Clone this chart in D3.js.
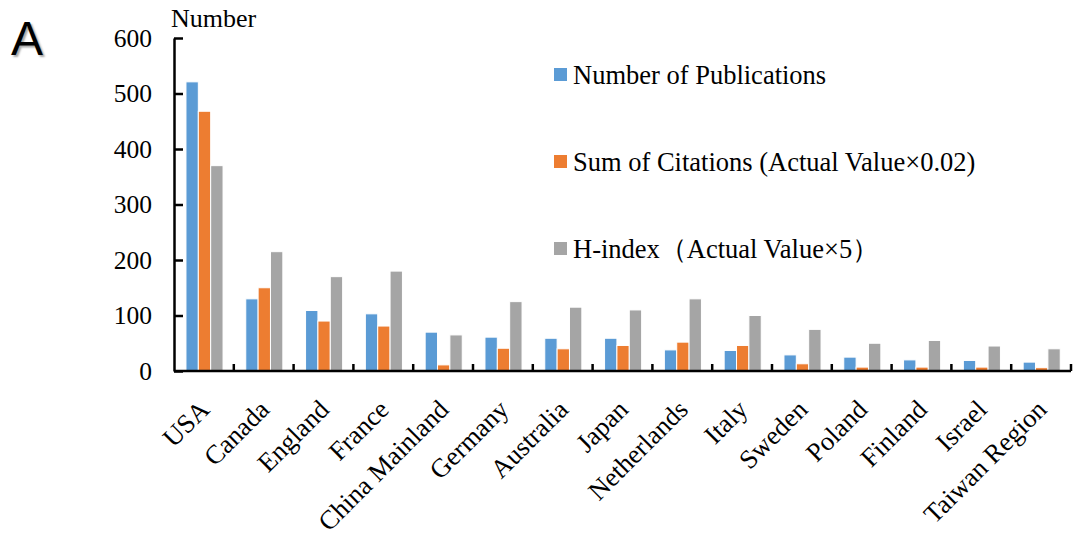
<!DOCTYPE html>
<html><head><meta charset="utf-8">
<script src="https://cdn.jsdelivr.net/npm/d3@7"></script>
<style>body{margin:0;background:#fff}</style>
</head><body>
<script>
const categories = ["USA","Canada","England","France","China Mainland","Germany","Australia","Japan","Netherlands","Italy","Sweden","Poland","Finland","Israel","Taiwan Region"];
const publications = [521,130,109,103,70,61,59,59,38,37,29,25,20,19,16];
const citations = [468,150,90,81,11,41,40,46,52,46,13,7,7,7,6];
const hindex = [370,215,170,180,65,125,115,110,130,100,75,50,55,45,40];
const seriesNames = ["Number of Publications","Sum of Citations (Actual Value×0.02)","H-index（Actual Value×5）"];
const seriesColors = ["#5B9BD5","#ED7D31","#A5A5A5"];
const yTicks = [0,100,200,300,400,500,600];

const W=1076,H=540;
const svg=d3.select("body").append("svg").attr("width",W).attr("height",H);
const serif="Liberation Serif";

const x=d3.scaleBand().domain(categories).range([174,1071]);
const xs=d3.scaleBand().domain([0,1,2]).range([x.bandwidth()*0.2,x.bandwidth()*0.82]);
const y=d3.scaleLinear().domain([0,600]).range([371,38]);

const series=[publications,citations,hindex];
series.forEach((vals,si)=>{
  svg.append("g").selectAll("rect").data(vals).join("rect")
    .attr("x",(d,i)=>x(categories[i])+xs(si))
    .attr("width",xs.bandwidth())
    .attr("y",d=>y(d))
    .attr("height",d=>y(0)-y(d))
    .attr("fill",seriesColors[si])
    .attr("stroke","#fff").attr("stroke-width",1);
});

// y axis
const ya=svg.append("g").attr("transform","translate(174,0)")
  .call(d3.axisLeft(y).tickValues(yTicks).tickSizeInner(-9).tickSizeOuter(0).tickPadding(22));
ya.attr("font-family",serif);
ya.select(".domain").attr("stroke","#000").attr("stroke-width",2.5);
ya.selectAll(".tick line").attr("stroke","#000").attr("stroke-width",2.5);
ya.selectAll(".tick text").style("font-family",serif).attr("font-size",25.5).attr("fill","#000");

// x axis
const xa=svg.append("g").attr("transform","translate(0,371)");
xa.append("line").attr("x1",174).attr("x2",1071).attr("stroke","#000").attr("stroke-width",2.5);
const bounds=categories.map(c=>x(c)).concat([x.range()[1]]).slice(1);
xa.selectAll("line.t").data(bounds).join("line").attr("class","t")
  .attr("x1",d=>d).attr("x2",d=>d).attr("y1",0).attr("y2",-7)
  .attr("stroke","#000").attr("stroke-width",2.5);
xa.selectAll("text").data(categories).join("text")
  .attr("transform",d=>`translate(${x(d)+x.bandwidth()/2-6},${27}) rotate(-45)`)
  .attr("text-anchor","end").attr("dy","0.7em")
  .style("font-family",serif).attr("font-size",26.5).attr("fill","#000").text(d=>d);

// axis title
svg.append("text").attr("x",171).attr("y",27).style("font-family",serif).attr("font-size",26).text("Number");

// panel letter
svg.append("text").attr("x",11).attr("y",55).style("font-family","Liberation Sans")
  .attr("font-size",48).attr("fill","#000").attr("style","font-family:'Liberation Sans';text-shadow:2px 2px 2px rgba(0,0,0,0.35)").text("A");

// legend
const legY=[75,162,249];
const lg=svg.append("g");
seriesNames.forEach((n,i)=>{
  lg.append("rect").attr("x",554).attr("y",legY[i]-7).attr("width",13).attr("height",13).attr("fill",seriesColors[i]);
  lg.append("text").attr("x",573).attr("y",legY[i]).attr("dy","0.35em")
    .style("font-family",serif).attr("font-size",26.5).attr("fill","#000").text(n);
});
</script>
</body></html>
